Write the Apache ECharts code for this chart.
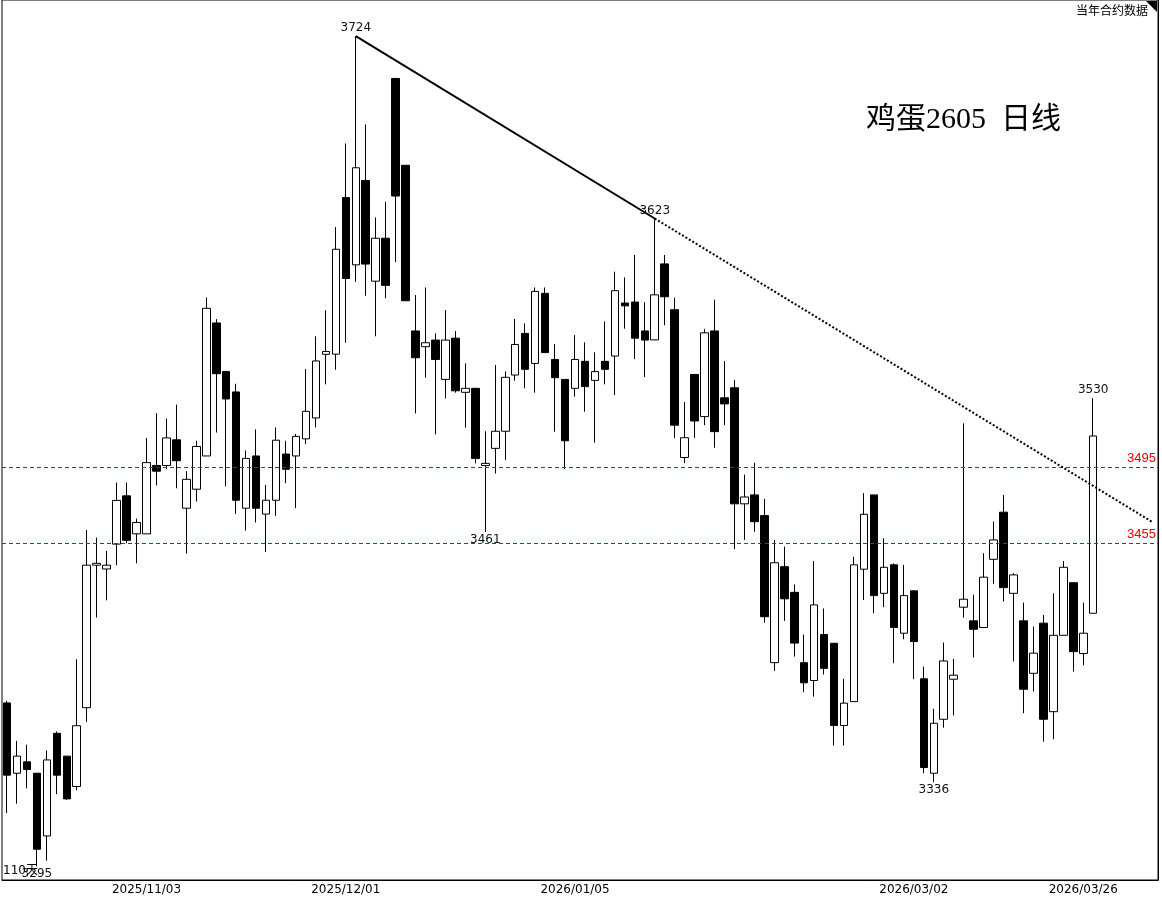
<!DOCTYPE html>
<html>
<head>
<meta charset="utf-8">
<script src="https://cdn.jsdelivr.net/npm/echarts@6/dist/echarts.min.js"></script>
<style>
  html, body { margin: 0; padding: 0; background: #fff; }
  #chart { width: 1162px; height: 901px; }
</style>
</head>
<body>
<div id="chart"></div>
<script>
// daily candles: open, close, low, high
var opens = [3371,3334,3340,3334,3301,3355,3343,3327,3368.5,3443.5,3441.5,3454.6,3480,3460,3460,3496,3496,3509.5,3473.5,3483.5,
  3501,3571,3545.5,3534.7,3473.5,3501,3470.4,3477.7,3502,3501,3510,3521,3554.5,3554.6,3637,3601.6,3646,3593,3615.6,3699.7,
  3654,3566.8,3558.5,3562,3541.3,3563,3534.5,3536.6,3496,3505,3514,3543.6,3565.5,3549.7,3586.6,3551.8,3541.3,3536.6,3550.8,3540.8,
  3550.8,3553.6,3581.5,3582,3566.8,3562.1,3602.1,3578,3500.2,3543.9,3521.7,3566.8,3531.6,3536.9,3475.8,3480.5,3469.6,3392.2,3442.7,3429.2,
  3392.2,3382.8,3407,3402.4,3359.1,3371.7,3441.4,3480.5,3428.7,3443.7,3407.7,3430,3383.7,3334,3362.4,3383.5,3421.4,3414.2,3410.7,3446.6,
  3471.4,3428.7,3414.2,3386.6,3413,3366.4,3406.6,3434.3,3397,3418.2];
var closes = [3333,3343,3336,3294,3341,3333,3320.5,3359,3443.5,3444.5,3443.5,3477.6,3456.6,3466,3497.5,3493,3510.5,3498.5,3488.7,3506,
  3578.7,3544.3,3531,3477.7,3499.7,3473.5,3477.7,3509.3,3494,3511.3,3524.5,3551,3556,3609.8,3594.4,3652.7,3602,3615.6,3590.8,3637.8,
  3582.7,3552.7,3560.6,3551.8,3562,3535.3,3536.6,3499.7,3497.1,3514,3542.4,3559.7,3546.6,3587.6,3555.4,3542.2,3509,3551.8,3537.5,3545.4,
  3546.6,3588,3580,3563,3562,3585.8,3584.8,3517.2,3510.6,3519.4,3565.8,3513.8,3528.4,3475.8,3479.4,3466.4,3416.4,3444.8,3425.8,3402.5,
  3381.6,3422.6,3389.2,3359.1,3370.9,3443.7,3470.3,3427.5,3442.4,3410.7,3427.5,3403.3,3337,3360.3,3393.1,3385.6,3425.6,3409.8,3437.2,3456.8,
  3431.7,3438.4,3378.2,3397.2,3362.4,3406.6,3442.4,3398,3407.7,3511.5];
var lows = [3313,3318,3326,3285,3288,3323,3320,3325,3361,3416,3425,3443.5,3455,3444.5,3460,3485.5,3494,3484,3449.6,3477,
  3501,3513.3,3485,3470.4,3461.7,3466,3450.5,3469.5,3486.7,3473.5,3507.2,3516,3538.7,3546.4,3560.6,3592.6,3585.3,3564,3584,3603,
  3582.7,3523.4,3542.2,3512.4,3531.3,3534.3,3515.9,3497.1,3461,3491.8,3498.9,3540.6,3536.6,3534.3,3555.4,3513.8,3494,3532.2,3524.3,3508,
  3538.7,3533,3568,3552,3542.5,3562,3569.8,3510.4,3497.2,3510.4,3517.2,3505.3,3517.2,3452,3456.8,3461.1,3413.2,3387.8,3414.2,3395.4,
  3376.6,3374.3,3386,3348.6,3348.6,3371.7,3425.2,3418.2,3421.4,3391.9,3404.5,3383.5,3334,3329.3,3358,3364.4,3415.9,3394.9,3410.7,3433.7,
  3424.4,3392.8,3365.6,3377,3350.6,3351.9,3406.6,3387.5,3390.8,3418.2];
var highs = [3372,3351,3349,3334,3346,3356,3343,3394,3462,3458,3451,3487,3487,3468,3510.5,3523.5,3520.7,3528,3493,3509,
  3584.4,3573,3545.5,3539,3503.9,3515,3485.8,3516,3509,3512.6,3546.8,3564,3577.7,3621.5,3665.5,3722,3675.5,3626.6,3634.8,3700,
  3654,3585.7,3589.7,3565.5,3577.8,3566.8,3549.7,3536.6,3514,3548.9,3545.5,3573.1,3570.8,3589.7,3589.7,3559.9,3541.3,3564.6,3560.8,3555.5,
  3571.8,3598,3595,3606.8,3582,3626,3606.8,3584.3,3529.4,3543.9,3567.9,3583.3,3551,3541,3491.2,3497.4,3478.4,3456.8,3453.3,3433.3,
  3407,3445.7,3420.7,3402.4,3383.7,3448,3481.4,3480.5,3457.7,3444.5,3443.7,3430,3390.1,3367.9,3402.8,3394.2,3518.2,3427.9,3449.8,3466.5,
  3480.5,3439.3,3423.8,3411.2,3417.3,3428.7,3445.7,3434.3,3423.8,3531.4];

// x axis: date labels at candle indices
var tickIdx = [14, 34, 57, 91, 108];
var tickText = ['2025/11/03', '2025/12/01', '2026/01/05', '2026/03/02', '2026/03/26'];

// labelled extremes
var markIdx = [35, 65, 48, 93, 109, 3];
var markText = ['3724', '3623', '3461', '3336', '3530', '3295'];
var markUp = [true, true, false, false, true, false];

var levels = [3495, 3455];
var trendA = [35, 3722];
var trendB = [65, 3626];
var trendEnd = [115, 3466];

var slots = 116;
var cats = [];
for (var i = 0; i < slots; i++) cats.push(i);

var candles = [];
for (var i = 0; i < opens.length; i++) candles.push([opens[i], closes[i], lows[i], highs[i]]);

var points = markIdx.map(function (idx, j) {
  var price = markUp[j] ? highs[idx] : lows[idx];
  return {
    coord: [idx, price],
    symbolSize: 0,
    label: {
      show: true, formatter: markText[j],
      position: markUp[j] ? 'top' : 'bottom',
      distance: 2, color: '#111', fontSize: 12, fontFamily: 'DejaVu Sans'
    }
  };
});

function levelLine(v) {
  return { yAxis: v, lineStyle: { color: '#d00', type: [4, 3], width: 1 },
    label: { formatter: String(v), position: 'insideEndTop', color: '#e00', fontSize: 13, distance: 2 } };
}

var chart = echarts.init(document.getElementById('chart'));
chart.setOption({
  animation: false,
  backgroundColor: '#fff',
  grid: { left: 2, right: 4, top: 0, bottom: 21 },
  xAxis: {
    type: 'category', data: cats, boundaryGap: true,
    axisLine: { lineStyle: { color: '#000', width: 1 } },
    axisTick: { show: false },
    splitLine: { show: false },
    axisLabel: {
      interval: function (idx) { return tickIdx.indexOf(idx) >= 0; },
      formatter: function (v, idx) { var k = tickIdx.indexOf(idx); return k >= 0 ? tickText[k] : ''; },
      color: '#000', fontSize: 12, fontFamily: 'DejaVu Sans', margin: 4
    }
  },
  yAxis: {
    type: 'value', position: 'right', min: 3277.8, max: 3741, scale: true,
    axisLine: { show: true, lineStyle: { color: '#000' } },
    axisTick: { show: false }, axisLabel: { show: false }, splitLine: { show: false }
  },
  series: [{
    type: 'candlestick',
    data: candles,
    barWidth: 8,
    itemStyle: { color: '#fff', color0: '#000', borderColor: '#000', borderColor0: '#000', borderWidth: 1 },
    markPoint: { symbol: 'circle', data: points },
    markLine: {
      symbol: 'none', silent: true,
      data: [
        levelLine(levels[0]),
        levelLine(levels[1]),
        [{ coord: trendA, lineStyle: { color: '#000', type: 'solid', width: 2 }, label: { show: false } }, { coord: trendB }],
        [{ coord: trendB, lineStyle: { color: '#000', type: [2, 2], width: 2 }, label: { show: false } }, { coord: trendEnd }]
      ]
    }
  }],
  graphic: [
    { type: 'rect', shape: { x: 2, y: 0, width: 1156, height: 880 }, style: { fill: 'none', stroke: '#000', lineWidth: 1 }, silent: true },
    { type: 'polygon', shape: { points: [[1146, 1], [1157, 1], [1157, 12]] }, style: { fill: '#000' } },
    { type: 'text', right: 14, top: 4, style: { text: '当年合约数据', fill: '#000', font: '12px "Noto Sans CJK SC"' } },
    { type: 'text', left: 866, top: 105, style: { text: '鸡蛋2605  日线', fill: '#000', font: '30px "Liberation Serif", "Noto Sans CJK SC"' } },
    { type: 'text', left: 3, top: 865, style: { text: '110天', fill: '#000', font: '12px "DejaVu Sans", "Noto Sans CJK SC"' } }
  ]
});
</script>
</body>
</html>
